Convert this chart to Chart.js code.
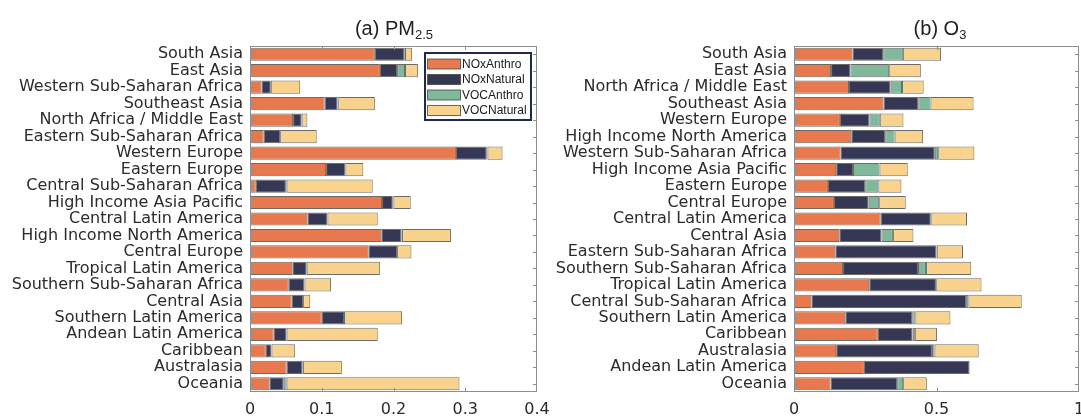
<!DOCTYPE html>
<html>
<head>
<meta charset="utf-8">
<script src="https://cdn.jsdelivr.net/npm/chart.js@4.4.1/dist/chart.umd.min.js"></script>
<style>
  html, body { margin: 0; padding: 0; background: #fff; }
  #wrap { position: relative; width: 1081px; height: 418px; overflow: hidden; }
  .panel { position: absolute; top: 0; }
  .title {
    position: absolute; top: 18px; line-height: 20px;
    font-family: "Liberation Sans", Arial, sans-serif; font-size: 20px; color: #222;
    white-space: nowrap; transform: translateX(-50%);
  }
  .title span { font-size: 13px; vertical-align: -4px; }
</style>
</head>
<body>
<div id="wrap">
  <canvas id="pm" class="panel" width="560" height="418" style="left:0"></canvas>
  <canvas id="o3" class="panel" width="536" height="418" style="left:545px"></canvas>
  <div class="title" style="left:394px">(a) PM<span>2.5</span></div>
  <div class="title" style="left:940px">(b) O<span>3</span></div>
</div>
<script>
// Series names shared by both panels
const seriesNames = ['NOxAnthro', 'NOxNatural', 'VOCAnthro', 'VOCNatural'];
const seriesColors = ['#E8794F', '#353754', '#80B89B', '#F9D38E'];

// (a) PM2.5 contributions by region
const pmRegions = ['South Asia', 'East Asia', 'Western Sub-Saharan Africa', 'Southeast Asia',
  'North Africa / Middle East', 'Eastern Sub-Saharan Africa', 'Western Europe', 'Eastern Europe',
  'Central Sub-Saharan Africa', 'High Income Asia Pacific', 'Central Latin America',
  'High Income North America', 'Central Europe', 'Tropical Latin America',
  'Southern Sub-Saharan Africa', 'Central Asia', 'Southern Latin America',
  'Andean Latin America', 'Caribbean', 'Australasia', 'Oceania'];
const pmNOxAnthro  = [0.174, 0.181, 0.016, 0.104, 0.060, 0.019, 0.287, 0.106, 0.008, 0.184, 0.080, 0.183, 0.165, 0.059, 0.054, 0.058, 0.100, 0.033, 0.022, 0.051, 0.027];
const pmNOxNatural = [0.041, 0.024, 0.013, 0.018, 0.012, 0.023, 0.043, 0.027, 0.042, 0.015, 0.028, 0.028, 0.040, 0.020, 0.022, 0.016, 0.031, 0.018, 0.008, 0.022, 0.020];
const pmVOCAnthro  = [0.001, 0.011, 0.000, 0.001, 0.000, 0.000, 0.001, 0.000, 0.001, 0.001, 0.000, 0.001, 0.000, 0.000, 0.000, 0.000, 0.000, 0.000, 0.000, 0.001, 0.004];
const pmVOCNatural = [0.010, 0.018, 0.041, 0.051, 0.008, 0.051, 0.021, 0.025, 0.120, 0.024, 0.070, 0.068, 0.020, 0.102, 0.037, 0.010, 0.081, 0.127, 0.033, 0.054, 0.241];
const pmTicks = [0, 0.1, 0.2, 0.3, 0.4];

// (b) O3 contributions by region
const o3Regions = ['South Asia', 'East Asia', 'North Africa / Middle East', 'Southeast Asia',
  'Western Europe', 'High Income North America', 'Western Sub-Saharan Africa',
  'High Income Asia Pacific', 'Eastern Europe', 'Central Europe', 'Central Latin America',
  'Central Asia', 'Eastern Sub-Saharan Africa', 'Southern Sub-Saharan Africa',
  'Tropical Latin America', 'Central Sub-Saharan Africa', 'Southern Latin America',
  'Caribbean', 'Australasia', 'Andean Latin America', 'Oceania'];
const o3NOxAnthro  = [0.205, 0.130, 0.193, 0.314, 0.161, 0.201, 0.163, 0.148, 0.119, 0.140, 0.304, 0.159, 0.145, 0.172, 0.264, 0.061, 0.180, 0.294, 0.148, 0.245, 0.128];
const o3NOxNatural = [0.108, 0.068, 0.146, 0.122, 0.104, 0.119, 0.331, 0.059, 0.131, 0.122, 0.176, 0.148, 0.354, 0.263, 0.234, 0.543, 0.235, 0.122, 0.336, 0.371, 0.234];
const o3VOCAnthro  = [0.069, 0.136, 0.040, 0.043, 0.036, 0.033, 0.012, 0.093, 0.046, 0.037, 0.002, 0.040, 0.002, 0.028, 0.001, 0.008, 0.011, 0.008, 0.009, 0.000, 0.021];
const o3VOCNatural = [0.134, 0.111, 0.076, 0.151, 0.083, 0.100, 0.127, 0.099, 0.081, 0.093, 0.125, 0.072, 0.092, 0.159, 0.159, 0.187, 0.123, 0.078, 0.155, 0.000, 0.083];
const o3Ticks = [0, 0.5, 1];

const labelFont = { family: 'DejaVu Sans', size: 16 };
const textColor = '#2b2b2b';

function makeDatasets(series) {
  return series.map((vals, i) => ({
    label: seriesNames[i],
    data: vals,
    backgroundColor: seriesColors[i],
    borderColor: 'rgba(70,70,60,0.8)',
    borderWidth: 1,
    borderSkipped: false,
    barPercentage: 0.8,
    categoryPercentage: 1.0
  }));
}

// Axes box with inward tick marks on all four sides
const framePlugin = {
  id: 'frame',
  afterDatasetsDraw(chart) {
    const { ctx, chartArea: a, scales: { x, y } } = chart;
    ctx.save();
    ctx.strokeStyle = '#8e8e8e';
    ctx.lineWidth = 1;
    ctx.strokeRect(a.left + 0.5, a.top + 0.5, a.right - a.left - 1, a.bottom - a.top - 1);
    ctx.beginPath();
    x.ticks.forEach((t, i) => {
      if (i === 0 || i === x.ticks.length - 1) return;
      const px = Math.round(x.getPixelForTick(i)) + 0.5;
      ctx.moveTo(px, a.top); ctx.lineTo(px, a.top + 4);
      ctx.moveTo(px, a.bottom); ctx.lineTo(px, a.bottom - 4);
    });
    y.ticks.forEach((t, i) => {
      const py = Math.round(y.getPixelForTick(i)) + 0.5;
      ctx.moveTo(a.left, py); ctx.lineTo(a.left + 4, py);
      ctx.moveTo(a.right, py); ctx.lineTo(a.right - 4, py);
    });
    ctx.stroke();
    ctx.restore();
  }
};

// Boxed legend inside the PM2.5 axes
const legendPlugin = {
  id: 'boxLegend',
  afterDraw(chart) {
    const ctx = chart.ctx;
    const bx = 425, by = 53, bw = 106, bh = 67;
    ctx.save();
    ctx.fillStyle = '#fff';
    ctx.fillRect(bx, by, bw, bh);
    ctx.strokeStyle = '#1f2a4c';
    ctx.lineWidth = 2;
    ctx.strokeRect(bx, by, bw, bh);
    ctx.font = '12px "Liberation Sans", Arial, sans-serif';
    ctx.textBaseline = 'middle';
    chart.data.datasets.forEach((ds, i) => {
      const cy = 64 + i * 15.5;
      ctx.fillStyle = ds.backgroundColor;
      ctx.fillRect(427.5, cy - 5, 33, 10);
      ctx.strokeStyle = 'rgba(70,70,60,0.8)';
      ctx.lineWidth = 1;
      ctx.strokeRect(427.5, cy - 5, 33, 10);
      ctx.fillStyle = '#1a1a1a';
      ctx.fillText(ds.label, 462, cy + 0.5);
    });
    ctx.restore();
  }
};

function makeChart(id, regions, series, ticks, yWidth, padRight, extraPlugins) {
  const maxV = ticks[ticks.length - 1];
  return new Chart(document.getElementById(id), {
    type: 'bar',
    data: { labels: regions, datasets: makeDatasets(series) },
    options: {
      indexAxis: 'y',
      responsive: false,
      animation: false,
      devicePixelRatio: 1,
      layout: { padding: { top: 46, right: padRight, left: 0, bottom: 0 } },
      plugins: { legend: { display: false }, tooltip: { enabled: false } },
      scales: {
        x: {
          stacked: true,
          min: 0,
          max: maxV,
          afterBuildTicks(s) { s.ticks = ticks.map(v => ({ value: v })); },
          ticks: {
            font: labelFont, color: textColor, padding: 8,
            maxRotation: 0, autoSkip: false,
            callback: v => String(v)
          },
          grid: { display: false, drawTicks: false },
          border: { display: false },
          afterFit(s) { s.height = 26; s.paddingLeft = 0; s.paddingRight = 0; }
        },
        y: {
          stacked: true,
          ticks: { font: labelFont, color: textColor, padding: 7, autoSkip: false },
          grid: { display: false, drawTicks: false },
          border: { display: false },
          afterFit(s) { s.width = yWidth; s.paddingTop = 0; s.paddingBottom = 0; }
        }
      }
    },
    plugins: [framePlugin].concat(extraPlugins)
  });
}

makeChart('pm', pmRegions, [pmNOxAnthro, pmNOxNatural, pmVOCAnthro, pmVOCNatural], pmTicks, 250, 23, [legendPlugin]);
makeChart('o3', o3Regions, [o3NOxAnthro, o3NOxNatural, o3VOCAnthro, o3VOCNatural], o3Ticks, 249, 2, []);
</script>
</body>
</html>
